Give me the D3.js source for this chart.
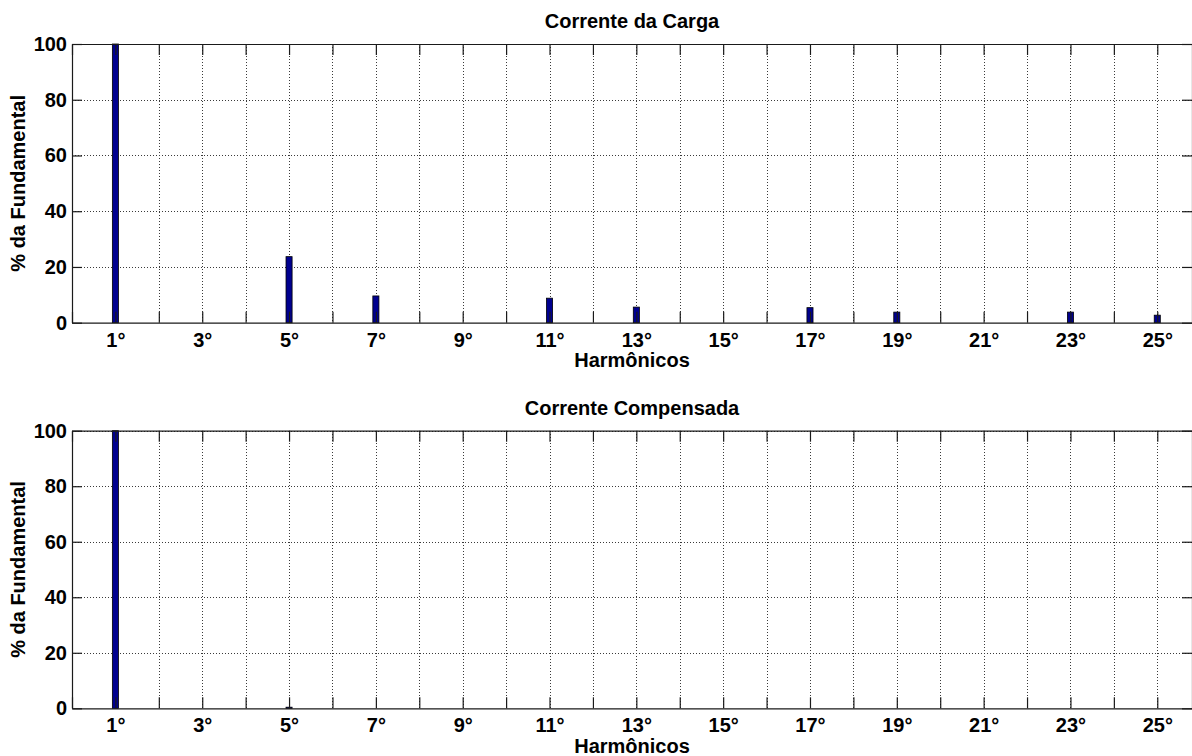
<!DOCTYPE html>
<html>
<head>
<meta charset="utf-8">
<script src="https://cdn.jsdelivr.net/npm/d3@7"></script>
<style>
  html, body { margin: 0; padding: 0; background: #fff; }
  svg { display: block; }
  text { font-family: "Liberation Sans", Arial, Helvetica, sans-serif; font-weight: bold; fill: #000; }
</style>
</head>
<body>
<svg id="chart" width="1192" height="756"></svg>
<script>
// Harmonic orders 1..25
const harmonics = d3.range(1, 26);
// Load current spectrum (% of fundamental)
const loadCurrent = [100, 0, 0, 0, 23.7, 0, 9.6, 0, 0, 0, 8.8, 0, 5.6, 0, 0, 0, 5.4, 0, 3.8, 0, 0, 0, 3.8, 0, 2.7];
// Compensated current spectrum (% of fundamental)
const compensatedCurrent = [100, 0, 0, 0, 0.4, 0, 0, 0, 0, 0, 0, 0, 0, 0, 0, 0, 0, 0, 0, 0, 0, 0, 0, 0, 0];
const yTicks = [0, 20, 40, 60, 80, 100];
const xTicks = d3.range(0, 26);
const xTickLabel = d => (d % 2 === 1 ? d + "\u00B0" : "");
const titles = ["Corrente da Carga", "Corrente Compensada"];
const xLabel = "Harm\u00F4nicos";
const yLabel = "% da Fundamental";

const svg = d3.select("#chart");
const FONT = "20px";
const panels = [
  { top: 44, bottom: 322.7, values: loadCurrent, title: titles[0] },
  { top: 430.7, bottom: 708.3, values: compensatedCurrent, title: titles[1] }
];
const left = 72, right = 1192;
const x = d3.scaleLinear().domain([0, 25.8]).range([left, right]);
const barW = 0.14;
const tickLen = 11;

panels.forEach(p => {
  const y = d3.scaleLinear().domain([0, 100]).range([p.bottom, p.top]);
  const g = svg.append("g");

  // dotted grid
  const grid = g.append("g").attr("stroke", "#3a3a3a").attr("stroke-width", 1)
    .attr("stroke-dasharray", "1,2").attr("shape-rendering", "crispEdges");
  grid.selectAll("line.v").data(xTicks.filter(d => d > 0)).join("line")
    .attr("x1", d => Math.round(x(d)) + 0.5).attr("x2", d => Math.round(x(d)) + 0.5)
    .attr("y1", p.top).attr("y2", p.bottom);
  grid.selectAll("line.h").data(yTicks.filter(d => d > 0)).join("line")
    .attr("x1", left).attr("x2", right)
    .attr("y1", d => Math.round(y(d)) + 0.5).attr("y2", d => Math.round(y(d)) + 0.5);

  // bars
  const data = harmonics.map((h, i) => ({ h, v: p.values[i] })).filter(d => d.v > 0);
  g.append("g").selectAll("rect").data(data).join("rect")
    .attr("x", d => x(d.h - barW / 2))
    .attr("width", d => x(d.h + barW / 2) - x(d.h - barW / 2))
    .attr("y", d => y(d.v))
    .attr("height", d => y(0) - y(d.v))
    .attr("fill", "#00008f")
    .attr("stroke", "#000")
    .attr("stroke-width", 0.8);

  // axes (box with inward ticks)
  const axB = d3.axisBottom(x).tickValues(xTicks).tickFormat(xTickLabel)
    .tickSizeInner(-tickLen).tickSizeOuter(0).tickPadding(9.8);
  const axT = d3.axisTop(x).tickValues(xTicks).tickFormat("")
    .tickSizeInner(-tickLen).tickSizeOuter(0);
  const axL = d3.axisLeft(y).tickValues(yTicks)
    .tickSizeInner(-tickLen + 1).tickSizeOuter(0).tickPadding(5);
  const axR = d3.axisRight(y).tickValues(yTicks).tickFormat("")
    .tickSizeInner(-tickLen + 1).tickSizeOuter(0);

  const style = sel => {
    sel.selectAll("path, line").attr("stroke", "#1a1a1a").attr("stroke-width", 1.2);
    sel.selectAll("text").attr("font-size", FONT).attr("font-family", null).attr("fill", "#000");
  };
  g.append("g").attr("transform", `translate(0,${p.bottom})`).call(axB).call(style);
  g.append("g").attr("transform", `translate(0,${p.top})`).call(axT).call(style);
  g.append("g").attr("transform", `translate(${left},0)`).call(axL).call(style);
  g.append("g").attr("transform", `translate(${right},0)`).call(axR).call(style);

  // title
  svg.append("text").attr("x", (left + right) / 2).attr("y", p.top - 16)
    .attr("text-anchor", "middle").attr("font-size", FONT).text(p.title);
  // x label
  svg.append("text").attr("x", (left + right) / 2).attr("y", p.bottom + 44.3)
    .attr("text-anchor", "middle").attr("font-size", FONT).text(xLabel);
  // y label
  svg.append("text")
    .attr("transform", `translate(25,${(p.top + p.bottom) / 2}) rotate(-90)`)
    .attr("text-anchor", "middle").attr("font-size", FONT).text(yLabel);
});
</script>
</body>
</html>
